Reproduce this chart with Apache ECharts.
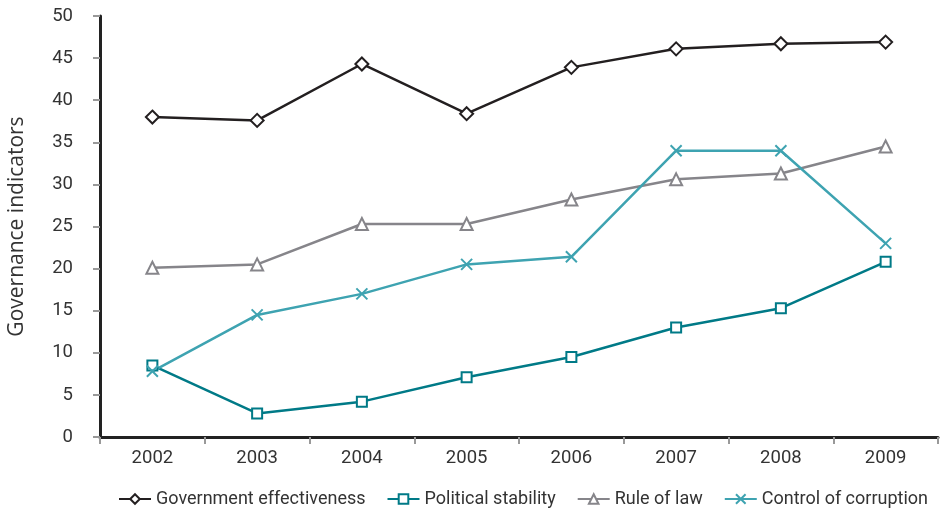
<!DOCTYPE html>
<html><head><meta charset="utf-8">
<script src="https://cdn.jsdelivr.net/npm/echarts@6/dist/echarts.min.js"></script>
<style>html,body{margin:0;padding:0;background:#fff}#c{width:941px;height:510px}</style>
</head><body><div id="c"></div>
<script>
const years = ['2002','2003','2004','2005','2006','2007','2008','2009'];
const govEffectiveness = [38.0, 37.6, 44.3, 38.4, 43.9, 46.1, 46.7, 46.9];
const politicalStability = [8.5, 2.8, 4.2, 7.1, 9.5, 13.0, 15.3, 20.8];
const ruleOfLaw = [20.1, 20.5, 25.3, 25.3, 28.2, 30.6, 31.3, 34.5];
const controlCorruption = [7.8, 14.5, 17.0, 20.5, 21.4, 34.0, 34.0, 23.0];
const seriesNames = ['Government effectiveness','Political stability','Rule of law','Control of corruption'];
const yTicks = [0,5,10,15,20,25,30,35,40,45,50];

const font = 'Roboto';
const chart = echarts.init(document.getElementById('c'));
const crossPath = 'path://M0,0L10,10M10,0L0,10';
function mk(name, data, color, symbol, size, fill){
  return {
    name, type:'line', data, symbol, symbolSize:size, showSymbol:true,
    lineStyle:{color, width:2.5},
    itemStyle:{color: fill, borderColor: color, borderWidth: 2},
    emphasis:{disabled:true}, animation:false
  };
}
chart.setOption({
  animation:false,
  grid:{left:100, right:3, top:16, bottom:73, containLabel:false, outerBoundsMode:'none'},
  legend:{
    top:485, left:113, itemGap:21, itemWidth:32, itemHeight:12,
    textStyle:{fontFamily:font, fontSize:18, color:'#333'},
    data: seriesNames
  },
  xAxis:{
    type:'category', data:years, boundaryGap:true,
    axisLine:{lineStyle:{color:'#222', width:3}},
    axisTick:{show:true, length:7, lineStyle:{color:'#999', width:2}},
    axisLabel:{fontFamily:font, fontSize:18.5, color:'#333', margin:12}
  },
  yAxis:{
    type:'value', min:yTicks[0], max:yTicks[yTicks.length-1], interval:5,
    name:'Governance indicators', nameLocation:'middle', nameGap:72, nameRotate:90,
    nameTextStyle:{fontFamily:'Open Sans', fontSize:21, color:'#333'},
    axisLine:{show:true, lineStyle:{color:'#222', width:3}},
    axisTick:{show:true, length:7, lineStyle:{color:'#999', width:2}},
    splitLine:{show:false},
    axisLabel:{fontFamily:font, fontSize:18.5, color:'#333', margin:27}
  },
  series:[
    mk(seriesNames[0], govEffectiveness, '#231f20', 'diamond', 13, '#fff'),
    mk(seriesNames[1], politicalStability, '#007a87', 'rect', 10, '#fff'),
    mk(seriesNames[2], ruleOfLaw, '#86858a', 'triangle', 12, '#fff'),
    mk(seriesNames[3], controlCorruption, '#3ea3b1', crossPath, 11, 'none')
  ]
});
</script></body></html>
